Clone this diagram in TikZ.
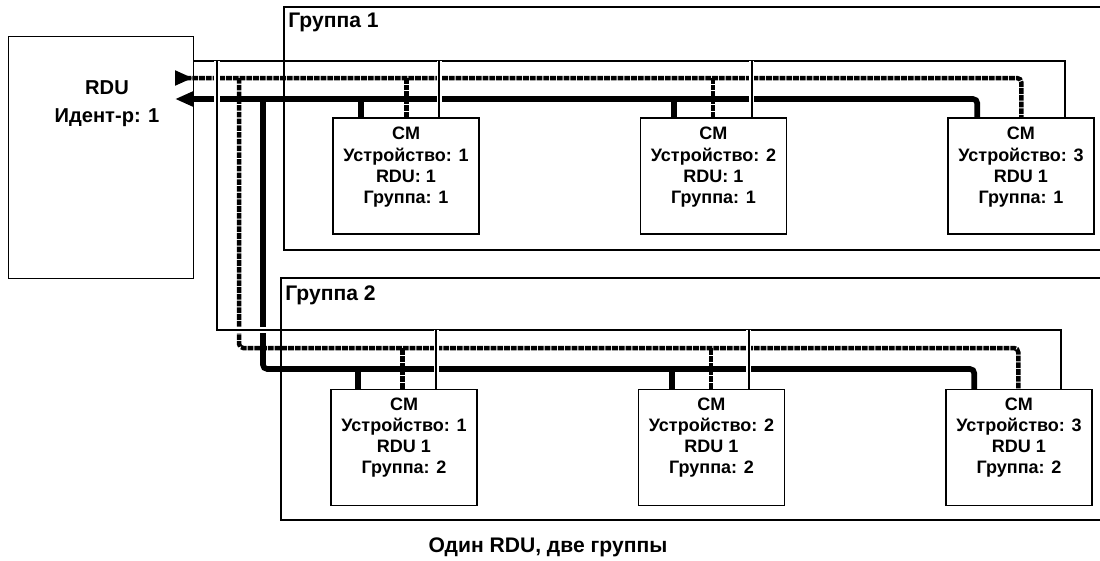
\documentclass[tikz,border=0pt]{standalone}
\usepackage{fontspec}
\setmainfont{Liberation Sans}
\usetikzlibrary{positioning, arrows.meta, calc}
\pgfdeclarelayer{bg}
\pgfsetlayers{bg,main}

\begin{document}
\begin{tikzpicture}[x=0.025cm, y=-0.025cm, font=\bfseries, node distance=4cm,
  cmbox/.style={draw, line width=1pt, minimum width=3.65cm, minimum height=2.9cm, inner sep=0pt},
  cmtext/.style={align=center, anchor=north, inner sep=0pt, font=\fontsize{12.8}{15}\selectfont\bfseries},
  frame/.style={draw, line width=1.4pt},
  grplabel/.style={anchor=north west, inner sep=0pt, font=\fontsize{15}{17}\selectfont\bfseries},
  thinbus/.style={line width=1.4pt, preaction={draw=white, line width=3.8pt}},
  dashbus/.style={line width=3.2pt, dash pattern=on 4pt off 0.8pt, rounded corners=3pt},
  thickbus/.style={line width=4pt, rounded corners=3pt}]
  \useasboundingbox (0,0) rectangle (1100,560);

  % RDU
  \node[draw, line width=1pt, minimum width=4.625cm, minimum height=6.05cm, inner sep=0pt,
        anchor=north west] (rdu) at (8,36) {};
  \node[align=center, anchor=north, inner sep=0pt, font=\fontsize{14.3}{20}\selectfont\bfseries]
    (rdutext) at (107,80) {RDU\\Идент-р: 1};

  % groups
  \draw[frame] (284,7) rectangle (1120,250);
  \node[grplabel] (grp1) at (288,13) {Группа 1};
  \draw[frame] (281,278) rectangle (1120,520);
  \node[grplabel] (grp2) at (285,285) {Группа 2};

  % CM boxes
  \node[cmbox] (g1cm1) at (406,176) {};
  \node[cmbox, right=of g1cm1] (g1cm2) {};
  \node[cmbox, right=of g1cm2] (g1cm3) {};
  \node[cmbox, below=3.85cm of g1cm1, xshift=-0.05cm] (g2cm1) {};
  \node[cmbox, right=of g2cm1] (g2cm2) {};
  \node[cmbox, right=of g2cm2] (g2cm3) {};
  \node[cmtext] (g1cm1t) at ([yshift=-7]g1cm1.north) {CM\\Устройство: 1\\RDU: 1\\Группа: 1};
  \node[cmtext] (g1cm2t) at ([yshift=-7]g1cm2.north) {CM\\Устройство: 2\\RDU: 1\\Группа: 1};
  \node[cmtext] (g1cm3t) at ([yshift=-7]g1cm3.north) {CM\\Устройство: 3\\RDU 1\\Группа: 1};
  \node[cmtext] (g2cm1t) at ([yshift=-6]g2cm1.north) {CM\\Устройство: 1\\RDU 1\\Группа: 2};
  \node[cmtext] (g2cm2t) at ([yshift=-6]g2cm2.north) {CM\\Устройство: 2\\RDU 1\\Группа: 2};
  \node[cmtext] (g2cm3t) at ([yshift=-6]g2cm3.north) {CM\\Устройство: 3\\RDU 1\\Группа: 2};

  \node[anchor=north, inner sep=0pt, font=\fontsize{15}{17}\selectfont\bfseries]
    (caption) at (548,537) {Один RDU, две группы};

  % buses
  \coordinate (thin1) at (193,61);
  \coordinate (dash1) at (175,78);
  \coordinate (thick1) at (175,99);
  \coordinate (thin2) at (217,330);
  \coordinate (dash2) at (239,348);
  \coordinate (thick2) at (263,369);

  \begin{pgfonlayer}{bg}
    \draw[thickbus, {Triangle[length=12.8pt, width=10pt]}-] (thick1) -| ($(g1cm3.north west)+(30,0)$);
    \draw[thickbus] (thick2 |- thick1) -- (thick2) -| ($(g2cm3.north west)+(29,0)$);
    \draw[dashbus, {Triangle[reversed, length=12.8pt, width=10pt]}-] (dash1) -| ($(g1cm3.north west)+(74,0)$);
    \draw[dashbus] (dash2 |- dash1) -- (dash2) -| ($(g2cm3.north west)+(73,0)$);
    \foreach \b/\tk/\ds/\g in {g1cm1/29/74/1, g1cm2/34/73/1, g2cm1/28/72/2, g2cm2/34/73/2} {
      \path ($(\b.north west)+(\tk,0)$) coordinate (k) ($(\b.north west)+(\ds,0)$) coordinate (d);
      \draw[thickbus] (k) -- (k |- thick\g);
      \draw[dashbus] (d) -- (d |- dash\g);
    }
    \draw[thinbus] (thin1) -| ($(g1cm3.north west)+(118,0)$);
    \draw[thinbus] (thin2 |- thin1) -- (thin2) -| ($(g2cm3.north west)+(116,0)$);
    \foreach \b/\tn/\g in {g1cm1/107/1, g1cm2/112/1, g2cm1/106/2, g2cm2/111/2} {
      \path ($(\b.north west)+(\tn,0)$) coordinate (t);
      \draw[thinbus] (t) -- (t |- thin\g);
    }
  \end{pgfonlayer}
\end{tikzpicture}
\end{document}
